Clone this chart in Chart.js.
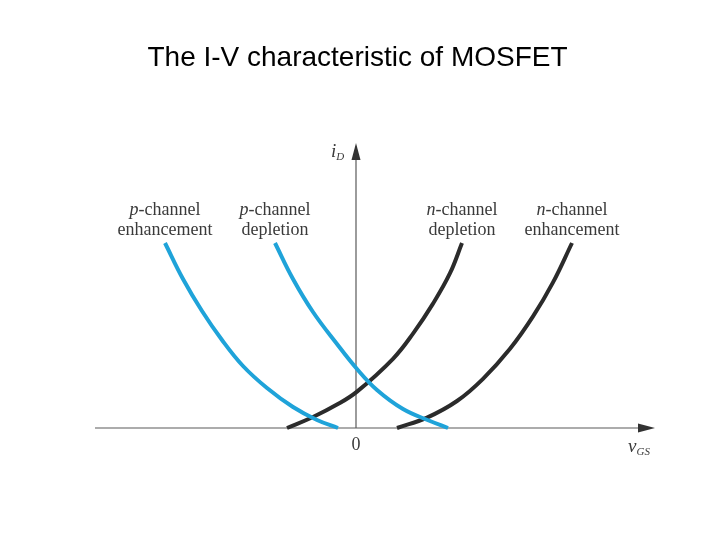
<!DOCTYPE html>
<html><head><meta charset="utf-8">
<script src="https://cdn.jsdelivr.net/npm/chart.js@4.4.0/dist/chart.umd.min.js"></script>
<style>html,body{margin:0;padding:0;background:#fff;}#wrap{width:720px;height:540px;}</style>
</head><body><div id="wrap"><canvas id="c" width="720" height="540"></canvas></div>
<script>
const titleText = 'The I-V characteristic of MOSFET';
const seriesNames = ['p-channel enhancement', 'p-channel depletion', 'n-channel depletion', 'n-channel enhancement'];
const labelLines = [
  [['p', '-channel'], ['', 'enhancement']],
  [['p', '-channel'], ['', 'depletion']],
  [['n', '-channel'], ['', 'depletion']],
  [['n', '-channel'], ['', 'enhancement']]
];
// v_GS (arbitrary units) and i_D (arbitrary units)
const pEnhV = [-4.775, -4.325, -3.85, -3.35, -2.825, -2.225, -1.575, -0.975, -0.45];
const pEnhI = [4.625, 3.725, 2.925, 2.2, 1.55, 1.0, 0.525, 0.2, 0];
const pDepV = [-2.025, -1.575, -1.075, -0.475, 0.025, 0.525, 1.175, 1.85, 2.3];
const pDepI = [4.625, 3.725, 2.9, 2.1, 1.475, 0.95, 0.475, 0.175, 0];
const nDepV = [-1.725, -1.075, -0.475, 0.025, 0.925, 1.425, 1.925, 2.35, 2.65];
const nDepI = [0, 0.275, 0.585, 0.91, 1.73, 2.36, 3.11, 3.87, 4.625];
const nEnhV = [1.025, 1.775, 2.525, 3.175, 3.85, 4.425, 4.925, 5.4];
const nEnhI = [0, 0.26, 0.675, 1.23, 1.98, 2.79, 3.64, 4.625];
const xAxisLabel = ['v', 'GS'];
const yAxisLabel = ['i', 'D'];
const originLabel = '0';

const BLUE = '#1fa3d9', DARK = '#2b2b2b';
function pts(xs, ys) { return xs.map((v, i) => ({ x: v, y: ys[i] })); }
const curves = [pts(pEnhV, pEnhI), pts(pDepV, pDepI), pts(nDepV, nDepI), pts(nEnhV, nEnhI)];
const colors = [BLUE, BLUE, DARK, DARK];

const SERIF = '"Liberation Serif", "Times New Roman", serif';
function drawParts(ctx, parts, x, baseline, align) {
  let widths = parts.map(p => {
    ctx.font = (p.italic ? 'italic ' : '') + p.size + 'px ' + SERIF;
    return ctx.measureText(p.t).width;
  });
  const total = widths.reduce((a, b) => a + b, 0);
  let cx = align === 'center' ? x - total / 2 : x;
  ctx.textAlign = 'left';
  ctx.textBaseline = 'alphabetic';
  parts.forEach((p, i) => {
    ctx.font = (p.italic ? 'italic ' : '') + p.size + 'px ' + SERIF;
    ctx.fillText(p.t, cx, baseline + (p.dy || 0));
    cx += widths[i];
  });
}

const axesPlugin = {
  id: 'mosfetAxes',
  beforeDatasetsDraw(chart) {
    const { ctx, scales: { x, y } } = chart;
    const x0 = x.getPixelForValue(0), y0 = y.getPixelForValue(0);
    const xs = x.getPixelForValue(-6.525), xe = x.getPixelForValue(x.max);
    const yt = y.getPixelForValue(y.max);
    ctx.save();
    ctx.strokeStyle = '#5a5a5a';
    ctx.lineWidth = 1.2;
    ctx.beginPath();
    ctx.moveTo(xs, y0); ctx.lineTo(xe - 12, y0);
    ctx.moveTo(x0, y0); ctx.lineTo(x0, yt + 12);
    ctx.stroke();
    ctx.fillStyle = '#333';
    ctx.beginPath();
    ctx.moveTo(xe, y0); ctx.lineTo(xe - 17, y0 - 4.5); ctx.lineTo(xe - 17, y0 + 4.5); ctx.closePath();
    ctx.fill();
    ctx.beginPath();
    ctx.moveTo(x0, yt); ctx.lineTo(x0 - 4.5, yt + 17); ctx.lineTo(x0 + 4.5, yt + 17); ctx.closePath();
    ctx.fill();
    ctx.restore();
  },
  afterDraw(chart) {
    const { ctx, scales: { x, y } } = chart;
    const x0 = x.getPixelForValue(0), y0 = y.getPixelForValue(0);
    const xe = x.getPixelForValue(x.max), yt = y.getPixelForValue(y.max);
    ctx.save();
    ctx.fillStyle = '#3a3a3a';
    curves.forEach((c, i) => {
      const top = c.reduce((a, b) => (b.y > a.y ? b : a));
      const px = x.getPixelForValue(top.x), py = y.getPixelForValue(top.y);
      const L = labelLines[i];
      drawParts(ctx, [{ t: L[0][0], italic: true, size: 18 }, { t: L[0][1], size: 18 }], px, py - 28, 'center');
      drawParts(ctx, [{ t: L[1][1], size: 18 }], px, py - 8, 'center');
    });
    drawParts(ctx, [{ t: yAxisLabel[0], italic: true, size: 19 }, { t: yAxisLabel[1], italic: true, size: 11, dy: 3 }], x0 - 25, yt + 14, 'left');
    drawParts(ctx, [{ t: xAxisLabel[0], italic: true, size: 19 }, { t: xAxisLabel[1], italic: true, size: 11, dy: 3 }], xe - 27, y0 + 24, 'left');
    drawParts(ctx, [{ t: originLabel, size: 18 }], x0, y0 + 22, 'center');
    ctx.restore();
  }
};

new Chart(document.getElementById('c'), {
  type: 'scatter',
  data: {
    datasets: curves.map((c, i) => ({
      label: seriesNames[i],
      data: c,
      showLine: true,
      borderColor: colors[i],
      backgroundColor: colors[i],
      borderWidth: 4,
      pointRadius: 0,
      tension: 0.4,
      clip: false,
      borderCapStyle: 'butt'
    }))
  },
  options: {
    responsive: false,
    animation: false,
    devicePixelRatio: 1,
    layout: { padding: { left: 60, right: 65, top: 0, bottom: 112 } },
    plugins: {
      legend: { display: false },
      tooltip: { enabled: false },
      title: {
        display: true,
        text: titleText,
        color: '#000',
        font: { family: '"Liberation Sans", Arial, sans-serif', size: 28, weight: 'normal' },
        padding: { top: 41, bottom: 68.4 }
      }
    },
    scales: {
      x: { type: 'linear', min: -7.4, max: 7.475, display: false },
      y: { type: 'linear', min: 0, max: 7.125, display: false }
    }
  },
  plugins: [axesPlugin]
});
</script>
</body></html>
